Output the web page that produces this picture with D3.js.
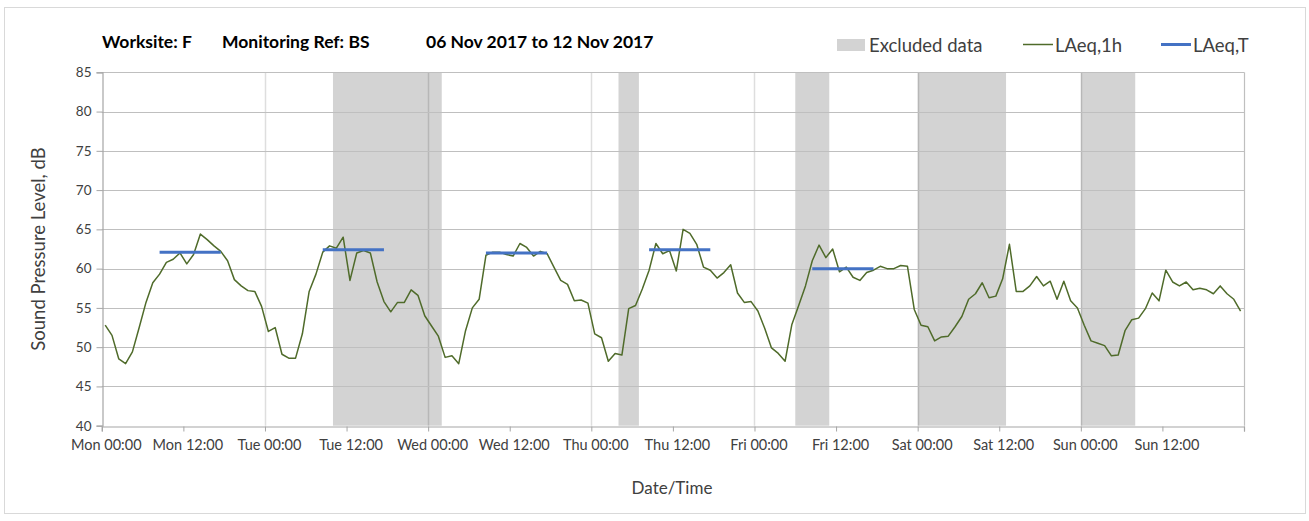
<!DOCTYPE html>
<html>
<head>
<meta charset="utf-8">
<script src="https://cdn.jsdelivr.net/npm/d3@7"></script>
<style>
  html, body { margin: 0; padding: 0; background: #fff; }
  svg { display: block; font-family: Lato, "Open Sans", sans-serif; }
</style>
</head>
<body>
<svg id="chart" width="1309" height="521"></svg>
<script>
// ---- data ----
const tickLabels = ["Mon 00:00","Mon 12:00","Tue 00:00","Tue 12:00","Wed 00:00","Wed 12:00","Thu 00:00","Thu 12:00","Fri 00:00","Fri 12:00","Sat 00:00","Sat 12:00","Sun 00:00","Sun 12:00"];
const tickHours = [0,12,24,36,48,60,72,84,96,108,120,132,144,156];
const yTicks = [40,45,50,55,60,65,70,75,80,85];
// hourly LAeq,1h values, one per hour from Mon 00:00 (plotted at mid-hour)
const laeq1h = [
  52.8,51.5,48.5,47.9,49.4,52.5,55.7,58.2,59.3,60.8,61.2,62.0,60.6,61.8,64.4,63.7,62.9,62.2,61.0,58.6,57.8,57.2,57.1,55.2,
  52.0,52.5,49.1,48.6,48.6,51.7,57.1,59.3,62.1,62.9,62.6,64.0,58.5,62.0,62.3,62.0,58.3,55.8,54.5,55.7,55.7,57.3,56.6,54.0,
  52.7,51.4,48.7,48.9,47.9,52.1,55.0,56.1,61.7,62.1,62.1,61.8,61.6,63.2,62.7,61.6,62.2,61.9,60.2,58.5,58.0,55.9,56.0,55.6,
  51.7,51.2,48.2,49.2,49.0,54.9,55.3,57.4,59.8,63.2,61.9,62.3,59.7,65.0,64.5,63.1,60.2,59.8,58.8,59.5,60.5,56.9,55.7,55.8,
  54.6,52.4,49.9,49.2,48.2,52.9,55.3,57.8,61.0,63.0,61.4,62.5,59.6,60.2,58.9,58.5,59.5,59.8,60.3,60.0,60.0,60.4,60.3,54.8,
  52.8,52.6,50.8,51.3,51.4,52.6,53.9,56.1,56.8,58.2,56.3,56.5,58.7,63.1,57.1,57.1,57.8,59.0,57.8,58.4,56.1,58.4,55.9,55.0,
  52.8,50.8,50.5,50.2,48.9,49.0,52.1,53.5,53.7,54.9,56.9,55.9,59.8,58.3,57.8,58.3,57.3,57.5,57.3,56.8,57.8,56.8,56.1,54.6
];
// excluded periods (hours from Mon 00:00)
const excludedStart = [34, 76, 102, 120, 144];
const excludedEnd   = [50, 79, 107, 133, 152];
// LAeq,T daytime periods
const laeqTStart = [8.5, 32.5, 56.5, 80.5, 104.5];
const laeqTEnd   = [17.5, 41.5, 65.5, 89.5, 113.5];
const laeqTValue = [62.1, 62.4, 62.0, 62.4, 60.0];

// ---- chart ----
const svg = d3.select("#chart");
const x = d3.scaleLinear().domain([0, 168]).range([101.8, 1244]);
const y = d3.scaleLinear().domain([40, 85]).range([425.7, 72.3]);

// outer border
svg.append("rect").attr("x", 4.5).attr("y", 7.5).attr("width", 1301).attr("height", 506)
  .attr("fill", "#fff").attr("stroke", "#d9d9d9").attr("stroke-width", 1);

// excluded rects
svg.append("g").selectAll("rect").data(excludedStart).join("rect")
  .attr("x", (d) => x(d))
  .attr("width", (d, i) => x(excludedEnd[i]) - x(d))
  .attr("y", y(85)).attr("height", y(40) - y(85))
  .attr("fill", "#d3d3d3");

// vertical gridlines at day boundaries
svg.append("g").selectAll("line").data(tickHours.filter(h => h % 24 === 0 && h > 0)).join("line")
  .attr("x1", d => Math.round(x(d)) + 0.5).attr("x2", d => Math.round(x(d)) + 0.5)
  .attr("y1", y(85)).attr("y2", y(40))
  .attr("stroke", "rgba(0,0,0,0.13)").attr("stroke-width", 1.5);

// horizontal gridlines
svg.append("g").selectAll("line").data(yTicks.filter(v => v > 40)).join("line")
  .attr("x1", x(0)).attr("x2", x(168))
  .attr("y1", d => Math.round(y(d)) + 0.5).attr("y2", d => Math.round(y(d)) + 0.5)
  .attr("stroke", "#bfbfbf").attr("stroke-width", 1.2);

// right border
svg.append("line").attr("x1", Math.round(x(168)) + 0.5).attr("x2", Math.round(x(168)) + 0.5)
  .attr("y1", y(85)).attr("y2", y(40)).attr("stroke", "#bfbfbf").attr("stroke-width", 1.2);

// y axis
const yAxis = svg.append("g").attr("transform", `translate(${Math.round(x(0)) + 0.5},0)`)
  .call(d3.axisLeft(y).tickValues(yTicks).tickSize(6).tickPadding(5).tickFormat(d3.format("d")));
yAxis.select(".domain").attr("stroke", "#a6a6a6").attr("stroke-width", 1.2);
yAxis.selectAll(".tick line").attr("stroke", "#a6a6a6");
yAxis.selectAll("text").attr("font-size", 13.5).attr("fill", "#404040").attr("font-family", "Lato, sans-serif");

// x axis
const xAxis = svg.append("g").attr("transform", `translate(0,${Math.round(y(40)) + 0.5})`)
  .call(d3.axisBottom(x).tickValues(tickHours.concat([168])).tickSize(5).tickPadding(8)
    .tickFormat((d) => { const i = tickHours.indexOf(d); return i >= 0 ? tickLabels[i] : ""; }));
xAxis.select(".domain").attr("stroke", "#a6a6a6").attr("stroke-width", 1.2);
xAxis.selectAll(".tick line").attr("stroke", "#a6a6a6");
xAxis.selectAll("text").attr("font-size", 14.5).attr("fill", "#404040").attr("dx", 4)
  .attr("font-family", "Lato, sans-serif");

// LAeq,1h line
const line = d3.line().x((d, i) => x(i + 0.5)).y(d => y(d));
svg.append("path").datum(laeq1h).attr("d", line)
  .attr("fill", "none").attr("stroke", "#4f6b2a").attr("stroke-width", 1.5).attr("stroke-linejoin", "round");

// LAeq,T lines
svg.append("g").selectAll("line").data(laeqTValue).join("line")
  .attr("x1", (d, i) => x(laeqTStart[i])).attr("x2", (d, i) => x(laeqTEnd[i]))
  .attr("y1", d => y(d)).attr("y2", d => y(d))
  .attr("stroke", "#4472c4").attr("stroke-width", 3);

// title
const title = svg.append("g").attr("font-weight", "bold").attr("font-size", 17.5).attr("fill", "#000");
title.append("text").attr("x", 102).attr("y", 48).text("Worksite: F");
title.append("text").attr("x", 222).attr("y", 48).text("Monitoring Ref: BS");
title.append("text").attr("x", 426).attr("y", 48).text("06 Nov 2017 to 12 Nov 2017");

// legend
const lg = svg.append("g").attr("font-size", 18.5).attr("fill", "#404040");
lg.append("rect").attr("x", 837).attr("y", 39).attr("width", 28).attr("height", 12).attr("fill", "#d3d3d3");
lg.append("text").attr("x", 869).attr("y", 51.5).attr("fill", "#404040").text("Excluded data");
lg.append("line").attr("x1", 1023).attr("x2", 1053).attr("y1", 44.5).attr("y2", 44.5).attr("stroke", "#4f6b2a").attr("stroke-width", 1.5);
lg.append("text").attr("x", 1055).attr("y", 51.5).attr("fill", "#404040").text("LAeq,1h");
lg.append("line").attr("x1", 1161).attr("x2", 1191).attr("y1", 44.5).attr("y2", 44.5).attr("stroke", "#4472c4").attr("stroke-width", 3);
lg.append("text").attr("x", 1193).attr("y", 51.5).attr("fill", "#404040").text("LAeq,T");

// axis titles
svg.append("text").attr("x", 672).attr("y", 494).attr("text-anchor", "middle")
  .attr("font-size", 17).attr("fill", "#404040").text("Date/Time");
svg.append("text").attr("transform", "translate(45,249) rotate(-90)").attr("text-anchor", "middle")
  .attr("font-size", 18.5).attr("fill", "#404040").text("Sound Pressure Level, dB");
</script>
</body>
</html>
